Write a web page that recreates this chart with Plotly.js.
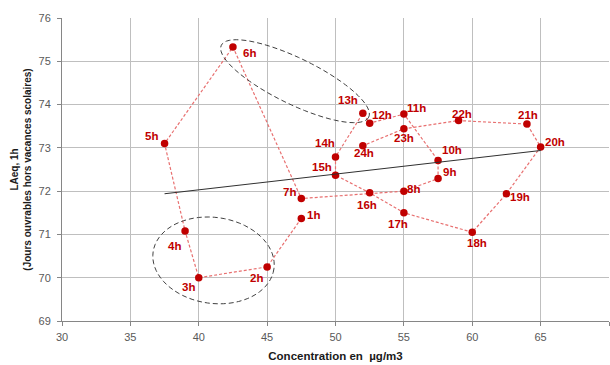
<!DOCTYPE html>
<html>
<head>
<meta charset="utf-8">
<script src="https://cdn.plot.ly/plotly-3.0.1.min.js"></script>
<style>html,body{margin:0;padding:0;background:#fff;}#chart{width:610px;height:365px;}</style>
</head>
<body>
<div id="chart"></div>
<script>
// Data
const hours = ["1h","2h","3h","4h","5h","6h","7h","8h","9h","10h","11h","12h","13h","14h","15h","16h","17h","18h","19h","20h","21h","22h","23h","24h"];
const concentration = [47.5,45.0,40.0,39.0,37.5,42.5,47.5,55.0,57.5,57.5,55.0,52.5,52.0,50.0,50.0,52.5,55.0,60.0,62.5,65.0,64.0,59.0,55.0,52.0];
const laeq = [71.37,70.25,70.0,71.08,73.1,75.33,71.83,72.0,72.29,72.71,73.78,73.57,73.8,72.79,72.37,71.96,71.5,71.05,71.94,73.02,73.55,73.63,73.44,73.05];
const xTicks = [30,35,40,45,50,55,60,65,70];
const yTicks = [69,70,71,72,73,74,75,76];

// styling: label offsets from each marker (px, right / down)
const labelShift = [[12,-3],[-11,11],[-10,9],[-11,15],[-13,-8],[17,6],[-12,-7],[10,-2],[11,-7],[14,-10],[13,-6],[12,-8],[-15,-13],[-11,-14],[-14,-8],[-3,12],[-6,11],[5,11],[14,3],[14,-5],[1,-9],[3,-7],[0,9],[1,7]];
// ellipses: [centerX, centerY (data units), semi-axis a, semi-axis b (px), angle (deg)]
const ellipse1 = [47.04, 74.54, 82, 23, 26];
const ellipse2 = [41.08, 70.40, 61, 43, 8];

const W = 610, H = 365, M = {l:62, r:1, t:18, b:44};
const xRange = [30,70], yRange = [69,76];
const pxX = (W - M.l - M.r) / (xRange[1]-xRange[0]);
const pxY = (H - M.t - M.b) / (yRange[1]-yRange[0]);

function ellipsePath(e){
  const [cx, cy, a, b, ang] = e;
  const th = ang*Math.PI/180;
  let p = "";
  for (let i=0;i<=72;i++){
    const t = i/72*2*Math.PI;
    const dx = a*Math.cos(t)*Math.cos(th) - b*Math.sin(t)*Math.sin(th);
    const dy = a*Math.cos(t)*Math.sin(th) + b*Math.sin(t)*Math.cos(th);
    const x = cx + dx/pxX, y = cy - dy/pxY;
    p += (i===0?"M":"L") + x.toFixed(4) + "," + y.toFixed(4) + " ";
  }
  return p + "Z";
}

// linear regression trendline
const n = concentration.length;
const mx = concentration.reduce((s,v)=>s+v,0)/n;
const my = laeq.reduce((s,v)=>s+v,0)/n;
let sxy=0, sxx=0;
for (let i=0;i<n;i++){ sxy += (concentration[i]-mx)*(laeq[i]-my); sxx += (concentration[i]-mx)**2; }
const slope = sxy/sxx, icpt = my - slope*mx;
const tx = [Math.min(...concentration), Math.max(...concentration)];
const ty = tx.map(v=>icpt+slope*v);

const fam = "Liberation Sans, Arial, sans-serif";

const traces = [
  {x: concentration, y: laeq, type:"scatter", mode:"lines+markers",
   line:{color:"#E87070", width:1.2, dash:"3px,2px"},
   marker:{color:"#C00000", size:7.5}, hoverinfo:"x+y", cliponaxis:false},
  {x: tx, y: ty, type:"scatter", mode:"lines", line:{color:"#303030", width:1.1}, hoverinfo:"skip"}
];

const annotations = hours.map((h,i)=>({
  x: concentration[i], y: laeq[i], xref:"x", yref:"y", text:h, showarrow:false,
  xanchor:"center", yanchor:"middle", xshift: labelShift[i][0], yshift: -labelShift[i][1],
  font:{family:fam, size:11.5, color:"#C00000", weight:"bold"}
}));

const axisCommon = {
  showgrid:true, gridcolor:"#BFBFBF", gridwidth:1,
  showline:true, linecolor:"#868686", linewidth:1,
  ticks:"outside", ticklen:4, tickcolor:"#868686",
  tickfont:{family: fam, size:11, color:"#595959"},
  zeroline:false, fixedrange:true
};

const layout = {
  width:W, height:H, margin:M, showlegend:false,
  paper_bgcolor:"#fff", plot_bgcolor:"#fff",
  xaxis: Object.assign({}, axisCommon, {range:xRange, tickvals:xTicks, ticktext:xTicks.map(String), ticklabelstandoff:2,
    title:{text:"Concentration en  µg/m3", font:{family:fam, size:11.5, color:"#1a1a1a", weight:"bold"}, standoff:9}}),
  yaxis: Object.assign({}, axisCommon, {range:yRange, tickvals:yTicks, ticktext:yTicks.map(String), ticklabelstandoff:4,
    title:{text:"LAeq, 1h<br>(Jours ouvrables hors vacances scolaires)", font:{family:fam, size:10, color:"#1a1a1a", weight:"bold"}, standoff:5}}),
  annotations: annotations,
  shapes:[
    {type:"path", path: ellipsePath(ellipse1), xref:"x", yref:"y", line:{color:"#404040", width:1, dash:"5px,3px"}},
    {type:"path", path: ellipsePath(ellipse2), xref:"x", yref:"y", line:{color:"#404040", width:1, dash:"5px,3px"}}
  ]
};

Plotly.newPlot("chart", traces, layout, {displayModeBar:false, staticPlot:true});
</script>
</body>
</html>
